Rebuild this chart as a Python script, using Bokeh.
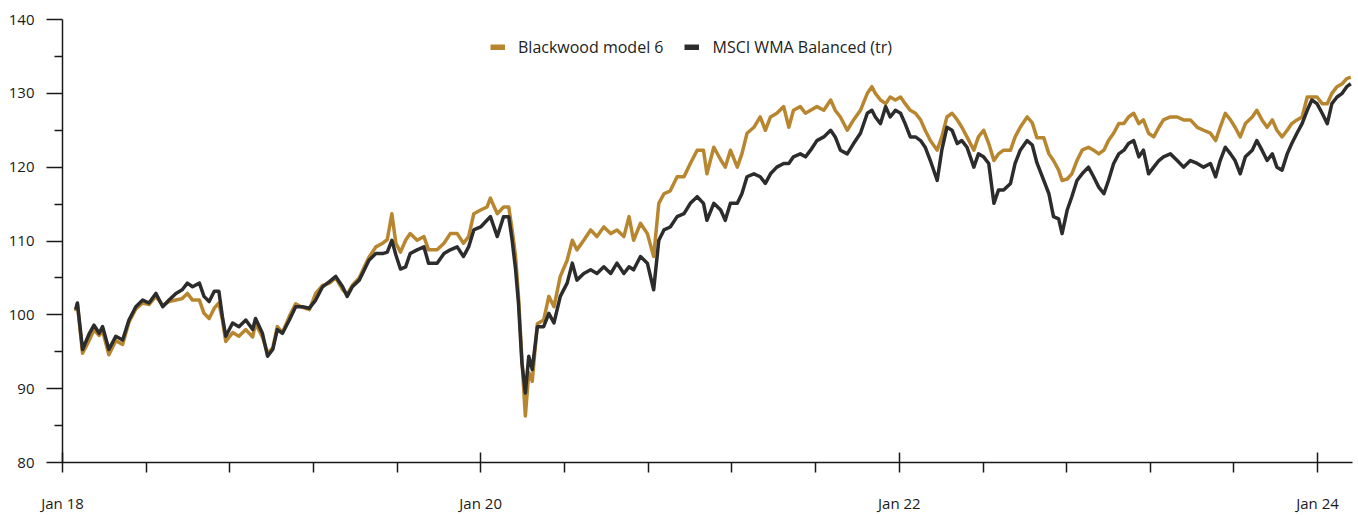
from datetime import datetime
import pandas as pd
from bokeh.plotting import figure
from bokeh.models import (Range1d, FixedTicker, DatetimeTickFormatter, Legend, LegendItem,
                          ColumnDataSource)
from bokeh.embed import file_html
from bokeh.resources import INLINE

# ---- data ----
dates = [
    "2018-01-24", "2018-01-27", "2018-02-05", "2018-02-17", "2018-02-25", "2018-03-06", "2018-03-12",
    "2018-03-23", "2018-04-04", "2018-04-16", "2018-04-27", "2018-05-09", "2018-05-21", "2018-06-01",
    "2018-06-13", "2018-06-25", "2018-07-06", "2018-07-18", "2018-07-29", "2018-08-07", "2018-08-16",
    "2018-08-28", "2018-09-05", "2018-09-14", "2018-09-23", "2018-10-01", "2018-10-07", "2018-10-13",
    "2018-10-25", "2018-11-05", "2018-11-17", "2018-11-29", "2018-12-04", "2018-12-16", "2018-12-25",
    "2019-01-03", "2019-01-11", "2019-01-20", "2019-02-01", "2019-02-12", "2019-02-24", "2019-03-08",
    "2019-03-19", "2019-03-31", "2019-04-12", "2019-04-23", "2019-05-05", "2019-05-13", "2019-05-22",
    "2019-06-03", "2019-06-12", "2019-06-20", "2019-07-02", "2019-07-14", "2019-07-22", "2019-07-30",
    "2019-08-06", "2019-08-14", "2019-08-23", "2019-08-31", "2019-09-12", "2019-09-24", "2019-10-02",
    "2019-10-17", "2019-10-29", "2019-11-09", "2019-11-21", "2019-12-02", "2019-12-11", "2019-12-20",
    "2020-01-01", "2020-01-12", "2020-01-18", "2020-01-30", "2020-02-10", "2020-02-19", "2020-02-25",
    "2020-03-02", "2020-03-07", "2020-03-13", "2020-03-19", "2020-03-25", "2020-03-31", "2020-04-09",
    "2020-04-20", "2020-04-29", "2020-05-08", "2020-05-19", "2020-05-31", "2020-06-09", "2020-06-17",
    "2020-06-29", "2020-07-11", "2020-07-22", "2020-08-03", "2020-08-15", "2020-08-26", "2020-09-07",
    "2020-09-16", "2020-09-24", "2020-10-06", "2020-10-18", "2020-10-29", "2020-11-07", "2020-11-16",
    "2020-11-27", "2020-12-09", "2020-12-21", "2021-01-01", "2021-01-13", "2021-01-24", "2021-01-30",
    "2021-02-11", "2021-02-23", "2021-03-03", "2021-03-12", "2021-03-24", "2021-04-01", "2021-04-10",
    "2021-04-22", "2021-05-03", "2021-05-12", "2021-05-21", "2021-06-01", "2021-06-13", "2021-06-22",
    "2021-06-30", "2021-07-12", "2021-07-21", "2021-07-30", "2021-08-10", "2021-08-22", "2021-09-03",
    "2021-09-11", "2021-09-20", "2021-10-02", "2021-10-13", "2021-10-25", "2021-11-06", "2021-11-14",
    "2021-11-20", "2021-11-29", "2021-12-08", "2021-12-16", "2021-12-25", "2022-01-03", "2022-01-11",
    "2022-01-20", "2022-01-29", "2022-02-07", "2022-02-15", "2022-02-24", "2022-03-08", "2022-03-16",
    "2022-03-25", "2022-04-03", "2022-04-12", "2022-04-20", "2022-04-29", "2022-05-11", "2022-05-19",
    "2022-05-28", "2022-06-06", "2022-06-15", "2022-06-23", "2022-07-02", "2022-07-14", "2022-07-22",
    "2022-07-31", "2022-08-12", "2022-08-21", "2022-08-29", "2022-09-10", "2022-09-19", "2022-09-27",
    "2022-10-06", "2022-10-12", "2022-10-21", "2022-10-29", "2022-11-07", "2022-11-16", "2022-11-27",
    "2022-12-06", "2022-12-15", "2022-12-24", "2023-01-01", "2023-01-10", "2023-01-19", "2023-01-28",
    "2023-02-05", "2023-02-14", "2023-02-23", "2023-03-03", "2023-03-12", "2023-03-21", "2023-03-30",
    "2023-04-07", "2023-04-19", "2023-05-01", "2023-05-12", "2023-05-24", "2023-06-05", "2023-06-16",
    "2023-06-28", "2023-07-07", "2023-07-15", "2023-07-24", "2023-08-02", "2023-08-10", "2023-08-19",
    "2023-08-28", "2023-09-09", "2023-09-17", "2023-09-26", "2023-10-05", "2023-10-14", "2023-10-22",
    "2023-10-31", "2023-11-09", "2023-11-17", "2023-11-26", "2023-12-05", "2023-12-14", "2023-12-22",
    "2023-12-31", "2024-01-09", "2024-01-18", "2024-01-26", "2024-02-04", "2024-02-13", "2024-02-21",
    "2024-02-28",
]

blackwood = [
    100.5, 101.5, 94.8, 96.6, 98.0, 97.2, 97.8,
    94.6, 96.5, 96.0, 99.0, 100.8, 101.6, 101.4,
    102.5, 101.3, 101.8, 102.0, 102.2, 102.9, 102.0,
    102.0, 100.2, 99.5, 100.9, 101.6, 99.4, 96.4,
    97.6, 97.1, 98.0, 97.0, 98.8, 97.0, 94.8,
    95.5, 98.4, 97.6, 99.8, 101.5, 101.0, 100.7,
    102.9, 104.0, 104.3, 105.0, 103.4, 102.8, 104.0,
    105.0, 106.5, 107.8, 109.2, 109.7, 110.2, 113.7,
    109.7, 108.5, 110.1, 111.0, 110.1, 110.6, 108.8,
    108.8, 109.7, 111.0, 111.0, 109.7, 110.6, 113.7,
    114.2, 114.6, 115.8, 113.7, 114.6, 114.6, 111.5,
    107.9, 102.5, 94.0, 86.3, 92.2, 91.0, 98.8,
    99.3, 102.5, 101.1, 105.2, 107.4, 110.1, 108.8,
    110.1, 111.5, 110.6, 111.9, 111.0, 111.5, 110.6,
    113.3, 110.1, 112.4, 111.0, 107.9, 115.1, 116.4,
    116.8, 118.7, 118.7, 120.5, 122.3, 122.3, 119.1,
    122.7, 121.0, 120.0, 122.3, 120.0, 121.8, 124.6,
    125.4, 126.8, 125.0, 126.8, 127.3, 128.2, 125.4,
    127.7, 128.2, 127.3, 127.7, 128.2, 127.7, 129.1,
    127.7, 126.8, 125.0, 126.4, 127.7, 130.0, 130.9,
    130.0, 129.1, 128.6, 129.5, 129.1, 129.5, 128.6,
    127.7, 127.3, 126.4, 125.0, 123.6, 122.3, 124.1,
    126.8, 127.3, 126.4, 125.4, 124.1, 122.3, 124.1,
    125.0, 123.2, 120.9, 121.8, 122.3, 122.3, 124.1,
    125.4, 126.8, 126.0, 124.0, 124.0, 121.8, 120.9,
    119.6, 118.2, 118.4, 119.1, 120.9, 122.3, 122.7,
    122.3, 121.8, 122.3, 123.6, 124.6, 125.9, 125.9,
    126.8, 127.3, 125.9, 126.4, 124.6, 124.1, 125.4,
    126.4, 126.8, 126.8, 126.4, 126.4, 125.4, 125.0,
    124.6, 123.6, 125.4, 127.3, 126.4, 125.4, 124.1,
    125.9, 126.8, 127.7, 126.4, 125.4, 126.4, 125.0,
    124.1, 125.0, 125.9, 126.4, 126.8, 129.5, 129.5,
    129.5, 128.6, 128.6, 130.0, 130.9, 131.3, 132.0,
    132.2,
]

msci = [
    100.7, 101.6, 95.3, 97.5, 98.6, 97.5, 98.4,
    95.3, 97.1, 96.6, 99.3, 101.1, 102.0, 101.6,
    102.9, 101.1, 102.0, 102.9, 103.4, 104.3, 103.8,
    104.3, 102.5, 101.8, 103.2, 103.2, 99.8, 97.1,
    98.9, 98.4, 99.3, 98.0, 99.5, 97.5, 94.4,
    95.3, 98.0, 97.5, 99.3, 101.1, 101.1, 100.9,
    102.0, 103.8, 104.5, 105.2, 103.8, 102.5, 103.8,
    104.7, 106.1, 107.4, 108.3, 108.3, 108.5, 110.1,
    108.1, 106.2, 106.5, 108.3, 108.8, 109.2, 107.0,
    107.0, 108.3, 108.8, 109.2, 107.9, 109.2, 111.5,
    111.9, 112.8, 113.3, 110.6, 113.3, 113.3, 110.1,
    106.1, 101.6, 93.5, 89.4, 94.4, 92.6, 98.4,
    98.4, 100.2, 98.9, 102.5, 104.3, 107.0, 104.7,
    105.6, 106.1, 105.6, 106.5, 105.6, 107.0, 105.6,
    106.5, 106.1, 107.9, 107.0, 103.4, 110.1, 111.5,
    111.9, 113.3, 113.7, 115.1, 116.0, 115.1, 112.8,
    115.1, 114.2, 112.8, 115.1, 115.1, 116.4, 118.7,
    119.1, 118.7, 117.8, 119.1, 120.0, 120.5, 120.5,
    121.4, 121.8, 121.4, 122.3, 123.6, 124.1, 125.0,
    124.1, 122.3, 121.8, 123.2, 124.6, 127.3, 127.7,
    126.8, 125.9, 128.2, 126.8, 127.7, 127.3, 125.9,
    124.1, 124.1, 123.6, 122.7, 120.9, 118.2, 122.3,
    125.4, 125.0, 123.2, 123.6, 122.7, 120.0, 121.8,
    121.4, 120.5, 115.1, 116.9, 116.9, 117.8, 120.5,
    122.3, 123.6, 123.0, 120.6, 118.2, 116.4, 113.3,
    113.0, 111.0, 114.2, 116.0, 118.2, 119.1, 120.0,
    118.7, 117.3, 116.4, 118.2, 120.5, 121.8, 122.3,
    123.2, 123.6, 121.4, 122.3, 119.1, 120.0, 120.9,
    121.4, 121.8, 120.9, 120.0, 120.9, 120.5, 120.0,
    120.5, 118.7, 120.9, 122.7, 121.8, 120.9, 119.1,
    121.4, 122.3, 123.6, 122.3, 120.9, 121.8, 120.0,
    119.6, 121.8, 123.2, 124.6, 125.9, 127.7, 129.1,
    128.6, 127.3, 125.9, 128.6, 129.5, 130.0, 130.9,
    131.3,
]

series_names = ["Blackwood model 6", "MSCI WMA Balanced (tr)"]
series_colors = ["#B8862F", "#2C2C2C"]

y_ticks = [80, 90, 100, 110, 120, 130, 140]
x_tick_dates = ["2018-01-01", "2020-01-01", "2022-01-01", "2024-01-01"]
x_tick_labels = ["Jan 18", "Jan 20", "Jan 22", "Jan 24"]

# ---- figure ----
FONT = "Open Sans"
x = pd.to_datetime(dates)
src = ColumnDataSource(dict(x=x, bw=blackwood, ms=msci))

p = figure(width=1358, height=515, x_axis_type="datetime", output_backend="svg",
           toolbar_location=None,
           x_range=Range1d(datetime(2018, 1, 1), datetime(2024, 3, 2)),
           y_range=Range1d(80, 140),
           min_border_left=62, min_border_right=6, min_border_top=19, min_border_bottom=52)
p.outline_line_color = None
p.xgrid.grid_line_color = None
p.ygrid.grid_line_color = None
p.background_fill_color = "white"
p.border_fill_color = "white"

p.line("x", "bw", source=src, line_color=series_colors[0], line_width=3.5, line_join="round")
p.line("x", "ms", source=src, line_color=series_colors[1], line_width=3.5, line_join="round")

# legend proxies (thick bars, nothing drawn in the plot)
nan = float("nan")
proxy_src = ColumnDataSource(dict(x=[x[0], x[0]], y=[nan, nan]))
proxy_bw = p.line("x", "y", source=proxy_src, line_color=series_colors[0], line_width=6)
proxy_ms = p.line("x", "y", source=proxy_src, line_color=series_colors[1], line_width=6)
legend = Legend(items=[LegendItem(label=series_names[0], renderers=[proxy_bw]),
                       LegendItem(label=series_names[1], renderers=[proxy_ms])],
                orientation="horizontal", location=(428, 404),
                glyph_width=15, glyph_height=6, label_standoff=13, spacing=21,
                padding=0, margin=0, border_line_color=None, background_fill_alpha=0,
                label_text_font=FONT, label_text_font_size="16px", label_text_color="#222222",
                label_height=20)
p.add_layout(legend, "center")

# y axis
ya = p.yaxis[0]
ya.ticker = FixedTicker(ticks=y_ticks, minor_ticks=[85, 95, 105, 115, 125, 135])
ya.axis_line_color = "#1a1a1a"
ya.axis_line_width = 1.5
ya.major_tick_line_color = "#1a1a1a"
ya.major_tick_line_width = 1.5
ya.major_tick_out = 16
ya.major_tick_in = 0
ya.minor_tick_line_color = "#1a1a1a"
ya.minor_tick_line_width = 1.5
ya.minor_tick_out = 8
ya.minor_tick_in = 0
ya.major_label_standoff = 12
ya.major_label_text_font = FONT
ya.major_label_text_font_size = "15px"
ya.major_label_text_color = "#1a1a1a"

# x axis
major_ms = [pd.Timestamp(d).value / 1e6 for d in x_tick_dates]
minor_ms = []
for a, b in zip(major_ms[:-1], major_ms[1:]):
    for j in range(1, 5):
        minor_ms.append(a + j * (b - a) / 5)
xa = p.xaxis[0]
xa.ticker = FixedTicker(ticks=major_ms, minor_ticks=minor_ms)
xa.major_label_overrides = {t: lab for t, lab in zip(major_ms, x_tick_labels)}
fmt = "%b %y"
xa.formatter = DatetimeTickFormatter(years=fmt, months=fmt, days=fmt, hours=fmt,
                                     minutes=fmt, seconds=fmt, milliseconds=fmt,
                                     microseconds=fmt, hourmin=fmt, minsec=fmt)
xa.axis_line_color = "#1a1a1a"
xa.axis_line_width = 1.5
xa.major_tick_line_color = "#1a1a1a"
xa.major_tick_line_width = 1.5
xa.major_tick_out = 10
xa.major_tick_in = 10
xa.minor_tick_line_color = "#1a1a1a"
xa.minor_tick_line_width = 1.5
xa.minor_tick_out = 10
xa.minor_tick_in = 0
xa.major_label_standoff = 20
xa.major_label_text_font = FONT
xa.major_label_text_font_size = "15px"
xa.major_label_text_color = "#1a1a1a"

open("out.html", "w").write(file_html(p, INLINE))
